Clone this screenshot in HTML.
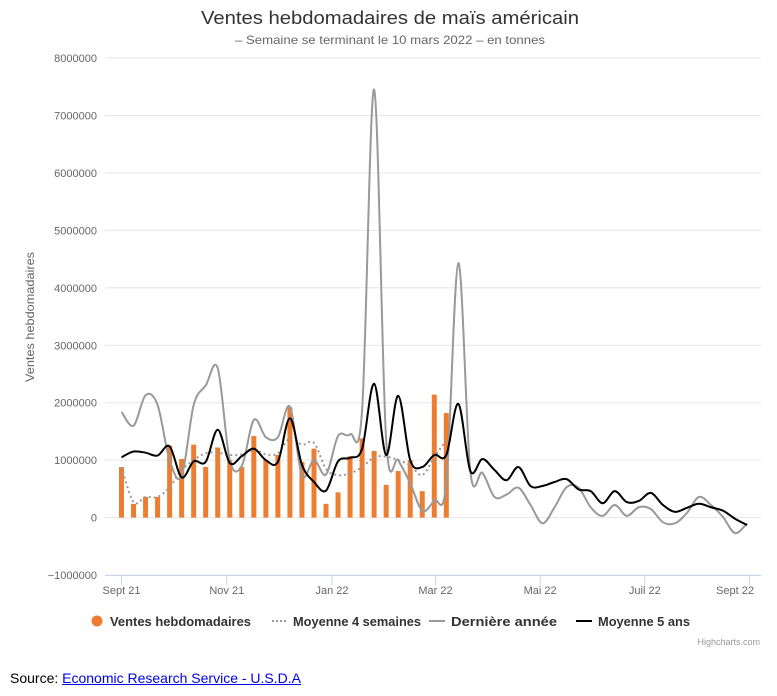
<!DOCTYPE html>
<html><head><meta charset="utf-8"><style>
html,body{margin:0;padding:0;background:#fff;width:777px;height:696px;overflow:hidden;font-family:"Liberation Sans",sans-serif}
#src{position:absolute;left:10px;top:670px;font-size:14px;color:#000}
#src a{color:#00e;text-decoration:underline}
</style></head><body>
<svg id="chart" width="777" height="660" style="position:absolute;left:0;top:0" xmlns="http://www.w3.org/2000/svg">
<text x="390" y="24" text-anchor="middle" font-size="18" fill="#333" textLength="378" lengthAdjust="spacingAndGlyphs">Ventes hebdomadaires de maïs américain</text>
<text x="390" y="44" text-anchor="middle" font-size="12" fill="#666" textLength="310" lengthAdjust="spacingAndGlyphs">– Semaine se terminant le 10 mars 2022 – en tonnes</text>
<g id="grid"></g><g id="bars"></g><g id="lines"></g>
<text transform="translate(34,317) rotate(-90)" text-anchor="middle" font-size="12" fill="#666" textLength="130" lengthAdjust="spacingAndGlyphs">Ventes hebdomadaires</text>
<g id="legend">
<circle cx="97" cy="621" r="5.5" fill="#ed7d31"/>
<text x="110" y="626" font-size="13" font-weight="bold" fill="#333" textLength="141" lengthAdjust="spacingAndGlyphs">Ventes hebdomadaires</text>
<path d="M272 621h16" stroke="#999" stroke-width="2" stroke-dasharray="2,2"/>
<text x="293" y="626" font-size="13" font-weight="bold" fill="#333" textLength="128" lengthAdjust="spacingAndGlyphs">Moyenne 4 semaines</text>
<path d="M429 621h16" stroke="#999" stroke-width="2"/>
<text x="451" y="626" font-size="13" font-weight="bold" fill="#333" textLength="106" lengthAdjust="spacingAndGlyphs">Dernière année</text>
<path d="M576 621h16" stroke="#000" stroke-width="2"/>
<text x="598" y="626" font-size="13" font-weight="bold" fill="#333" textLength="92" lengthAdjust="spacingAndGlyphs">Moyenne 5 ans</text>
</g>
<text x="760" y="645" text-anchor="end" font-size="9" fill="#999">Highcharts.com</text>
</svg>
<div id="src">Source: <a>Economic Research Service - U.S.D.A</a></div>
<script>
const yTicks=[-1000000,0,1000000,2000000,3000000,4000000,5000000,6000000,7000000,8000000];
const xTickLabels=["Sept 21","Nov 21","Jan 22","Mar 22","Mai 22","Juil 22","Sept 22"];
const xTickWeeks=[0,8.75,17.5,26.1,34.8,43.5,52.2];
const weeklySales=[0.88,0.24,0.36,0.36,1.25,1.02,1.27,0.88,1.22,1.0,0.88,1.42,1.0,1.09,1.92,0.97,1.2,0.24,0.44,1.07,1.38,1.16,0.57,0.81,1.0,0.46,2.14,1.82];
const avg4Weeks=[0.88,0.27,0.36,0.36,0.53,0.83,1.0,1.12,1.13,1.09,1.1,1.18,1.1,1.12,1.38,1.27,1.3,0.85,0.74,0.77,0.88,1.05,1.06,1.0,0.91,0.74,1.05,1.35];
const lastYear=[1.84,1.6,2.13,1.96,1.0,0.72,1.96,2.3,2.6,1.0,0.9,1.7,1.4,1.4,1.93,0.73,1.0,0.75,1.42,1.45,1.87,7.45,1.35,1.0,0.6,0.12,0.3,0.6,4.43,0.8,0.78,0.36,0.4,0.52,0.22,-0.1,0.18,0.53,0.52,0.18,0.03,0.22,0.03,0.18,0.15,-0.08,-0.1,0.08,0.36,0.22,0.01,-0.27,-0.1];
const avg5Years=[1.05,1.15,1.13,1.08,1.24,0.7,0.98,0.97,1.53,0.95,1.07,1.2,1.0,0.97,1.73,0.92,0.62,0.47,0.98,1.04,1.2,2.33,1.09,2.12,1.0,0.88,1.09,1.09,1.98,0.81,1.02,0.83,0.65,0.88,0.55,0.55,0.62,0.67,0.49,0.46,0.25,0.46,0.27,0.29,0.43,0.22,0.1,0.17,0.24,0.18,0.12,-0.02,-0.13];
const NS="http://www.w3.org/2000/svg";
const X=w=>121.5+w*12.03;
const Y=v=>517.6-v/1000000*57.45;
const YM=m=>Y(m*1000000);
function mk(t,a,p){const e=document.createElementNS(NS,t);for(const k in a)e.setAttribute(k,a[k]);p.appendChild(e);return e;}
const grid=document.getElementById('grid');
yTicks.forEach(t=>{
 const l=mk('line',{x1:105,x2:761,y1:Y(t),y2:Y(t),stroke:'#e6e6e6','stroke-width':1},grid);
 
 
 const tx=mk('text',{x:97,y:Y(t)+4,'text-anchor':'end','font-size':11,fill:'#666'},grid);
 tx.textContent=t<0?'−'+(-t):String(t);
 
 
});
mk('line',{x1:105,x2:761,y1:575.5,y2:575.5,stroke:'#ccd6eb'},grid);
xTickWeeks.forEach((w,i)=>{
 const l=mk('line',{x1:X(w),x2:X(w),y1:575.5,y2:585,stroke:'#ccd6eb'},grid);
 
 
 const tx=mk('text',{x:Math.min(X(w),735),y:594,'text-anchor':'middle','font-size':11,fill:'#666'},grid);
 tx.textContent=xTickLabels[i];
 
 
});
const bars=document.getElementById('bars');
weeklySales.forEach((v,i)=>{
 const y=YM(v);
 const r=mk('rect',{x:X(i)-2.5,y:y,width:5,height:Y(0)-y,fill:'#ed7d31'},bars);
 
 
});
function smooth(vals){
 const p=vals.map((v,i)=>[X(i),YM(v)]);
 let d='M'+p[0][0]+' '+p[0][1];
 for(let i=0;i<p.length-1;i++){
  const p0=p[i-1]||p[i],p1=p[i],p2=p[i+1],p3=p[i+2]||p2;
  const c1=[p1[0]+(p2[0]-p0[0])/6,p1[1]+(p2[1]-p0[1])/6];
  const c2=[p2[0]-(p3[0]-p1[0])/6,p2[1]-(p3[1]-p1[1])/6];
  d+=`C${c1[0]} ${c1[1]} ${c2[0]} ${c2[1]} ${p2[0]} ${p2[1]}`;
 }
 return d;
}
const lines=document.getElementById('lines');
const l1=mk('path',{d:smooth(avg4Weeks),fill:'none',stroke:'#999','stroke-width':2,'stroke-dasharray':'2,3'},lines);


const l2=mk('path',{d:smooth(lastYear),fill:'none',stroke:'#999','stroke-width':2},lines);


const l3=mk('path',{d:smooth(avg5Years),fill:'none',stroke:'#000','stroke-width':2},lines);


</script>
</body></html>
